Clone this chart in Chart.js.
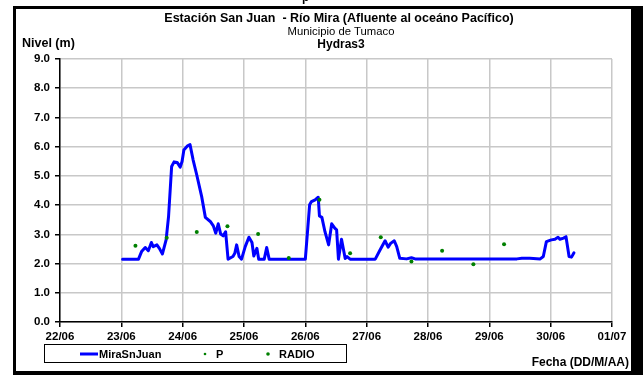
<!DOCTYPE html>
<html>
<head>
<meta charset="utf-8">
<script src="https://cdn.jsdelivr.net/npm/chart.js@4.4.0/dist/chart.umd.min.js"></script>
<style>
  body { margin: 0; background: #fff; }
  #graf { display: block; }
</style>
</head>
<body>
<canvas id="graf" width="643" height="375"></canvas>
<script>
// Etiquetas del eje X (dias desde 22/06)
const etiquetasFecha = ["22/06", "23/06", "24/06", "25/06", "26/06", "27/06", "28/06", "29/06", "30/06", "01/07"];
const etiquetasNivel = ["0.0", "1.0", "2.0", "3.0", "4.0", "5.0", "6.0", "7.0", "8.0", "9.0"];

// Serie MiraSnJuan: tiempo en dias desde 22/06 y nivel en metros
const tiempoNivel = [
  1.02, 1.28, 1.33, 1.39, 1.44, 1.49, 1.52, 1.58, 1.62, 1.67,
  1.73, 1.77, 1.82, 1.86, 1.91, 1.96, 1.99, 2.02, 2.08, 2.12,
  2.17, 2.23, 2.31, 2.37, 2.45, 2.50, 2.54, 2.58, 2.62, 2.66,
  2.70, 2.74, 2.82, 2.85, 2.88, 2.92, 2.96, 3.02, 3.08, 3.13,
  3.16, 3.21, 3.24, 3.33, 3.37, 3.41, 4.00, 4.07, 4.10, 4.16,
  4.21, 4.23, 4.27, 4.32, 4.38, 4.43, 4.48, 4.51, 4.54, 4.59,
  4.65, 4.68, 4.73, 5.14, 5.22, 5.30, 5.35, 5.39, 5.45, 5.49,
  5.54, 5.65, 5.73, 5.79, 7.45, 7.53, 7.66, 7.83, 7.88, 7.93,
  8.01, 8.07, 8.12, 8.15, 8.21, 8.25, 8.30, 8.34, 8.38
];
const nivelMira = [
  2.15, 2.15, 2.41, 2.55, 2.44, 2.72, 2.58, 2.64, 2.52, 2.33,
  2.81, 3.61, 5.32, 5.48, 5.46, 5.30, 5.49, 5.89, 6.03, 6.07,
  5.55, 5.03, 4.29, 3.58, 3.44, 3.29, 3.04, 3.36, 3.01, 2.95,
  3.09, 2.15, 2.24, 2.35, 2.64, 2.24, 2.15, 2.58, 2.90, 2.72,
  2.26, 2.52, 2.15, 2.15, 2.55, 2.15, 2.15, 4.01, 4.12, 4.18,
  4.27, 3.63, 3.58, 3.09, 2.64, 3.36, 3.21, 3.15, 2.15, 2.83,
  2.17, 2.24, 2.15, 2.15, 2.47, 2.78, 2.56, 2.69, 2.78, 2.58,
  2.18, 2.16, 2.20, 2.16, 2.16, 2.18, 2.18, 2.16, 2.24, 2.75,
  2.81, 2.83, 2.90, 2.83, 2.87, 2.92, 2.24, 2.22, 2.37
];

// Serie P (puntos)
const tiempoP = [1.23, 1.74, 2.23, 2.73, 3.23, 3.73, 4.23, 4.73, 5.23, 5.73, 6.23, 6.74, 7.24];
const valoresP = [2.61, 2.88, 3.08, 3.28, 3.01, 2.19, 4.18, 2.35, 2.90, 2.07, 2.44, 1.98, 2.66];

// Serie RADIO (sin datos en el periodo)
const tiempoRadio = [];
const valoresRadio = [];

const pares = (xs, ys) => xs.map((x, i) => ({ x, y: ys[i] }));

const FUENTE = "'Liberation Sans', Arial, sans-serif";

// Marco, titulos y leyenda dibujados sobre el canvas
const decoracion = {
  id: "decoracion",
  afterDraw(chart) {
    const ctx = chart.ctx;
    ctx.save();

    // marco negro con sombra
    ctx.fillStyle = "#000";
    ctx.fillRect(13, 6, 620, 3);
    ctx.fillRect(13, 6, 3, 368);
    ctx.fillRect(631, 6, 12, 369);
    ctx.fillRect(13, 371, 630, 4);

    // texto cortado arriba
    ctx.font = "bold 12px " + FUENTE;
    ctx.textAlign = "left";
    ctx.textBaseline = "alphabetic";
    ctx.fillText("p", 302, 1);

    // titulos
    ctx.textAlign = "center";
    ctx.font = "bold 12.5px " + FUENTE;
    ctx.fillText("Estación San Juan  - Río Mira (Afluente al oceáno Pacífico)", 339, 22);
    ctx.font = "11.3px " + FUENTE;
    ctx.fillText("Municipio de Tumaco", 341, 35);
    ctx.font = "bold 12px " + FUENTE;
    ctx.fillText("Hydras3", 341, 48);

    ctx.textAlign = "left";
    ctx.font = "bold 12.5px " + FUENTE;
    ctx.fillText("Nivel (m)", 22, 47);
    ctx.textAlign = "right";
    ctx.font = "bold 12px " + FUENTE;
    ctx.fillText("Fecha (DD/M/AA)", 629, 366);

    // leyenda
    ctx.strokeStyle = "#000";
    ctx.lineWidth = 1;
    ctx.strokeRect(44.5, 344.5, 302, 18);
    ctx.strokeStyle = "#0000ff";
    ctx.lineWidth = 3;
    ctx.beginPath();
    ctx.moveTo(80, 354);
    ctx.lineTo(98, 354);
    ctx.stroke();

    ctx.fillStyle = "#008000";
    ctx.beginPath();
    ctx.arc(205, 354, 1.3, 0, Math.PI * 2);
    ctx.fill();
    ctx.beginPath();
    ctx.arc(268, 354, 1.8, 0, Math.PI * 2);
    ctx.fill();

    ctx.fillStyle = "#000";
    ctx.textAlign = "left";
    ctx.textBaseline = "middle";
    ctx.font = "bold 11px " + FUENTE;
    ctx.fillText("MiraSnJuan", 99, 355);
    ctx.fillText("P", 216, 355);
    ctx.fillText("RADIO", 279, 355);

    ctx.restore();
  }
};

const ctx = document.getElementById("graf").getContext("2d");

new Chart(ctx, {
  type: "scatter",
  data: {
    datasets: [
      {
        label: "MiraSnJuan",
        data: pares(tiempoNivel, nivelMira),
        showLine: true,
        borderColor: "#0000ff",
        borderWidth: 3,
        borderJoinStyle: "round",
        borderCapStyle: "round",
        pointRadius: 0,
        tension: 0,
        order: 2
      },
      {
        label: "P",
        data: pares(tiempoP, valoresP),
        backgroundColor: "#008000",
        borderWidth: 0,
        pointRadius: 2,
        order: 1
      },
      {
        label: "RADIO",
        data: pares(tiempoRadio, valoresRadio),
        backgroundColor: "#00a000",
        borderWidth: 0,
        pointRadius: 2,
        order: 1
      }
    ]
  },
  options: {
    responsive: false,
    animation: false,
    layout: { padding: { top: 59, right: 31, left: 0, bottom: 0 } },
    plugins: {
      legend: { display: false },
      title: { display: false },
      tooltip: { enabled: false }
    },
    scales: {
      x: {
        type: "linear",
        min: 0,
        max: 9,
        afterFit: s => { s.height = 53; },
        ticks: {
          stepSize: 1,
          autoSkip: false,
          maxRotation: 0,
          padding: 3,
          color: "#000",
          font: { family: FUENTE, size: 11.5, weight: "bold" },
          callback: v => etiquetasFecha[v]
        },
        grid: { color: "#c8c8c8", lineWidth: 1.5, tickColor: "#000", tickLength: 5 },
        border: { color: "#000", width: 1.5 }
      },
      y: {
        min: 0,
        max: 9,
        afterFit: s => { s.width = 60; },
        ticks: {
          stepSize: 1,
          padding: 5,
          color: "#000",
          font: { family: FUENTE, size: 11.5, weight: "bold" },
          callback: v => etiquetasNivel[v]
        },
        grid: { color: "#c8c8c8", lineWidth: 1.5, tickColor: "#000", tickLength: 5 },
        border: { color: "#000", width: 1.5 }
      }
    }
  },
  plugins: [decoracion]
});
</script>
</body>
</html>
